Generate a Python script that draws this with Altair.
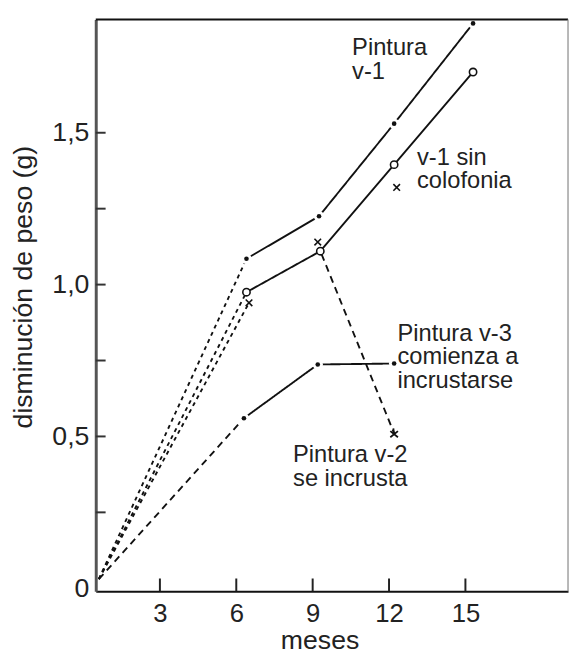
import altair as alt
import pandas as pd

# ---------------- data ----------------
meses_v1 = [0.6, 6.4, 9.25, 12.2, 15.3]
peso_v1 = [0.03, 1.085, 1.225, 1.53, 1.86]

meses_v1_sc = [0.6, 6.4, 9.3, 12.2, 15.3]
peso_v1_sc = [0.03, 0.975, 1.11, 1.395, 1.70]

meses_cruz = [0.6, 6.5, 9.2, 12.3]
peso_cruz = [0.03, 0.94, 1.14, 1.32]

meses_v2 = [9.35, 12.2]
peso_v2 = [1.10, 0.51]

meses_v3 = [0.6, 6.3, 9.2, 12.2]
peso_v3 = [0.03, 0.56, 0.737, 0.74]

x_ticks = [3, 6, 9, 12, 15]
y_labels = [0, 0.5, 1.0, 1.5]
y_ticks = [0.25, 0.5, 0.75, 1.0, 1.25, 1.5]

etiquetas = [["Pintura", "v-1"], ["v-1 sin", "colofonia"],
             ["Pintura v-3", "comienza a", "incrustarse"],
             ["Pintura v-2", "se incrusta"]]
etiqueta_x = [10.55, 13.1, 12.33, 8.23]
etiqueta_y = [1.755, 1.395, 0.815, 0.415]

# ---------------- tables ----------------
rows = []
def tramo(nombre, xs, ys, estilo):
    for a, b in zip(xs, ys):
        rows.append({"tramo": nombre, "x": a, "y": b, "estilo": estilo})

tramo("v1a", meses_v1[:2], peso_v1[:2], "puntos")
tramo("v1b", meses_v1[1:], peso_v1[1:], "continua")
tramo("sca", meses_v1_sc[:2], peso_v1_sc[:2], "puntos")
tramo("scb", meses_v1_sc[1:], peso_v1_sc[1:], "continua")
tramo("cra", meses_cruz[:2], peso_cruz[:2], "puntos")
tramo("v3a", meses_v3[:2], peso_v3[:2], "trazos")
tramo("v3b", meses_v3[1:], peso_v3[1:], "continua")
tramo("v2a", meses_v2, peso_v2, "trazos")
lineas = pd.DataFrame(rows)

puntos_llenos = pd.DataFrame({"x": meses_v1[1:] + meses_v3[1:],
                              "y": peso_v1[1:] + peso_v3[1:]})
circulos = pd.DataFrame({"x": meses_v1_sc[1:], "y": peso_v1_sc[1:]})
cruces = pd.DataFrame({"x": meses_cruz[1:], "y": peso_cruz[1:]})
estrella = pd.DataFrame({"x": meses_v2[1:], "y": peso_v2[1:]})
textos = pd.DataFrame({"x": etiqueta_x, "y": etiqueta_y, "t": etiquetas})
xt = pd.DataFrame({"x": x_ticks})
yt = pd.DataFrame({"y": y_ticks})
uno = pd.DataFrame({"a": [0]})

W, H = 479, 580
FONT = "Liberation Sans"

x_enc = alt.X("x:Q",
              scale=alt.Scale(domain=[0.48, 19.03], nice=False, zero=False),
              axis=alt.Axis(values=x_ticks, ticks=False, grid=False,
                            labelFontSize=26, labelPadding=10,
                            title="meses", titleFontSize=27,
                            titleX=227, titleY=58, titleBaseline="alphabetic",
                            domainColor="#111", domainWidth=2))
y_enc = alt.Y("y:Q",
              scale=alt.Scale(domain=[-0.01, 1.873], nice=False, zero=False),
              axis=alt.Axis(values=y_labels, ticks=False, grid=False,
                            labelExpr="datum.value == 0 ? '0' : replace(format(datum.value, '.1f'), '.', ',')",
                            labelFontSize=27, labelPadding=7,
                            title="disminución de peso (g)", titleFontSize=27,
                            titleAngle=270, titleAlign="center", titleBaseline="middle",
                            titleX=-73, titleY=271,
                            domainColor="#555", domainWidth=3))

lin = alt.Chart(lineas).mark_line(color="#111", strokeWidth=1.9).encode(
    x=x_enc, y=y_enc, detail="tramo:N",
    strokeDash=alt.StrokeDash("estilo:N", legend=None,
                              scale=alt.Scale(domain=["continua", "puntos", "trazos"],
                                              range=[[1, 0], [4, 4], [7, 5]])))

halo = alt.Chart(puntos_llenos).mark_point(filled=True, color="white", size=110, opacity=1).encode(x=x_enc, y=y_enc)
dots = alt.Chart(puntos_llenos).mark_point(filled=True, color="#111", size=22, opacity=1).encode(x=x_enc, y=y_enc)
circ = alt.Chart(circulos).mark_point(shape="circle", fill="white", stroke="#111",
                                      strokeWidth=1.6, size=55, opacity=1, filled=False).encode(x=x_enc, y=y_enc)
crz = alt.Chart(cruces).mark_point(shape="M-1,-1L1,1M1,-1L-1,1", stroke="#111",
                                   strokeWidth=1.6, size=45, opacity=1).encode(x=x_enc, y=y_enc)
est = alt.Chart(estrella).mark_point(shape="M-1,-0.6L1,1M1,-0.6L-1,1M-0.2,-1.3L0,0.4", stroke="#111",
                                     strokeWidth=1.8, size=60, opacity=1).encode(x=x_enc, y=y_enc)

txt = alt.Chart(textos).mark_text(align="left", baseline="alphabetic", font=FONT,
                                  fontSize=24, lineHeight=24, color="#222").encode(
    x=x_enc, y=y_enc, text="t")

xtick = alt.Chart(xt).mark_rule(color="#222", strokeWidth=2).encode(
    x=x_enc, y=alt.value(H), y2=alt.value(H - 13))
ytick = alt.Chart(yt).mark_rule(color="#333", strokeWidth=2).encode(
    y=y_enc, x=alt.value(0), x2=alt.value(10))

top = alt.Chart(uno).mark_rule(color="#111", strokeWidth=2).encode(
    x=alt.value(0), x2=alt.value(W), y=alt.value(0))
right = alt.Chart(uno).mark_rule(color="#888", strokeWidth=1.2).encode(
    x=alt.value(W), y=alt.value(0), y2=alt.value(H))

chart = alt.layer(lin, halo, dots, circ, crz, est, txt, xtick, ytick, top, right).properties(
    width=W, height=H,
    autosize=alt.AutoSizeParams(type="none"),
    padding={"left": 89, "top": 7, "right": 1, "bottom": 63},
    background="white",
).configure_view(stroke="transparent").configure_axis(
    labelFont=FONT, titleFont=FONT, labelColor="#222", titleColor="#222",
    titleFontWeight="normal")

chart.save("out.html", embed_options={"renderer": "svg", "actions": False})
